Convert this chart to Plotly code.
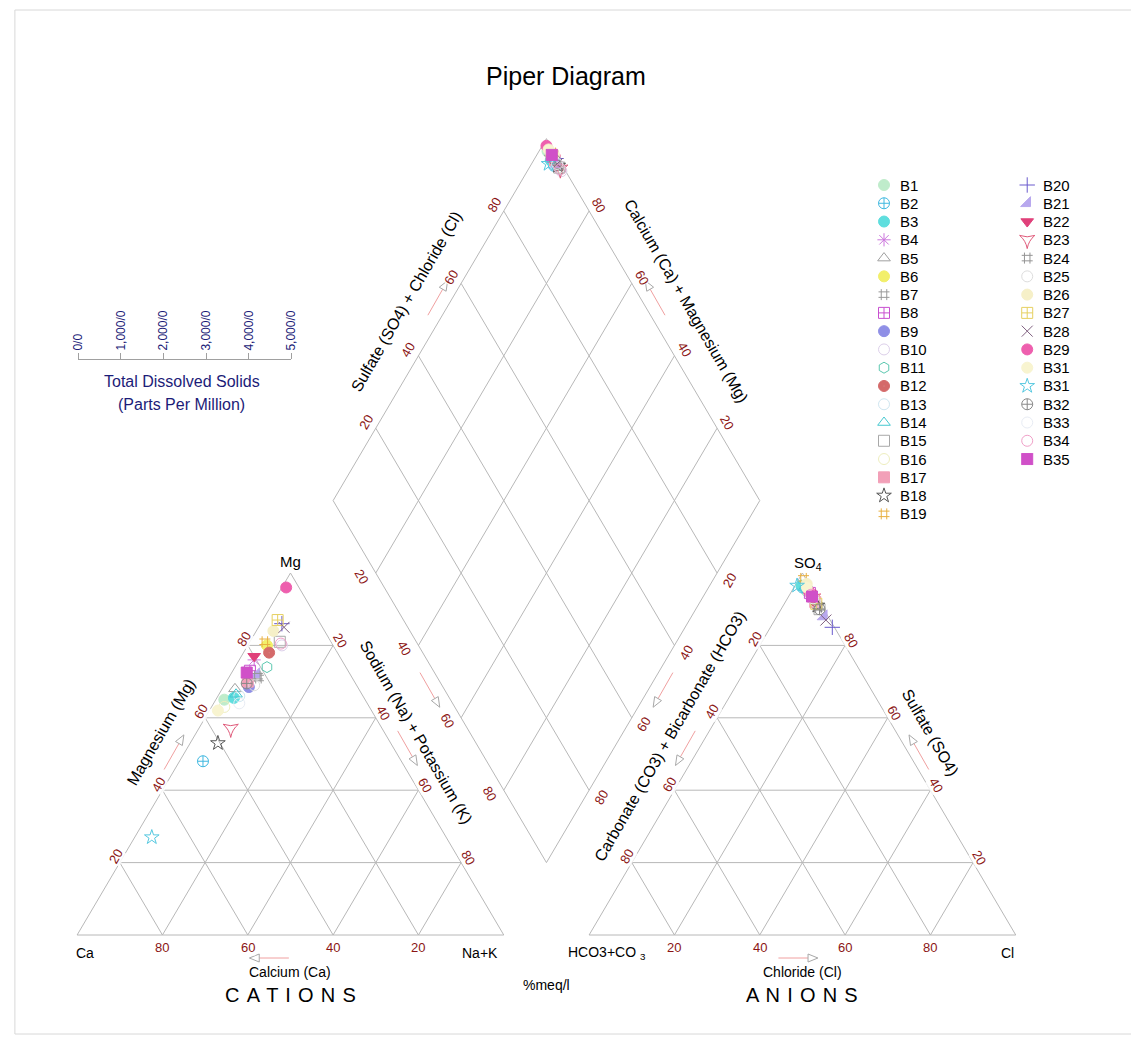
import numpy as np
import plotly.graph_objects as go

# ---------------------------------------------------------------- data
samples = ["B1", "B2", "B3", "B4", "B5", "B6", "B7", "B8", "B9", "B10",
           "B11", "B12", "B13", "B14", "B15", "B16", "B17", "B18", "B19",
           "B20", "B21", "B22", "B23", "B24", "B25", "B26", "B27", "B28",
           "B29", "B31", "B31", "B32", "B33", "B34", "B35"]

# cations, %meq/l
mg = [65, 48, 65.5, 76, 68, 80, 71, 73, 68.5, 80,
      74, 78, 66, 66.5, 81, 63, 70, 53, 81,
      86, 72, 77, 57, 71.5, 69, 84, 87, 85,
      96, 62, 27, 69.5, 64, 80.5, 72.5]
na_k = [2, 5.5, 4, 3.5, 3, 4.5, 7, 4, 6, 8,
        7.5, 6, 5, 4, 7, 3, 5, 6.5, 3.5,
        5, 6, 3, 7.5, 6.5, 7, 4, 3.5, 6,
        1, 2, 4, 5, 6, 7.5, 3.5]
ca = [round(100 - a - b, 2) for a, b in zip(mg, na_k)]

# anions, %meq/l
so4 = [95, 96, 96.5, 94, 93, 92, 91, 94.5, 91.5, 93.5,
       95.5, 92.5, 94, 96, 90, 93, 92, 91, 98.5,
       85, 88, 94.5, 93, 90.5, 92, 97, 91.5, 87,
       95, 96, 96.5, 90, 93, 94, 93.5]
cl = [3.5, 2, 1.5, 5, 6, 7, 8, 4.5, 7.5, 5.5,
      3.5, 6.5, 5, 2.5, 9, 6, 7, 8, 1,
      14.5, 11, 4.5, 6, 8.5, 7, 2.5, 7.5, 12,
      4, 3, 0.5, 9, 6, 5, 5.5]
hco3 = [round(100 - a - b, 2) for a, b in zip(so4, cl)]

colors = ["#bfeccb", "#3fb8e0", "#5fdede", "#cc77dd", "#a0a0a0", "#f2ef6a",
          "#9a9a9a", "#c84fd0", "#8f8fe6", "#ddd0ea", "#5cc8b0", "#d46a6a",
          "#cfe6f0", "#46c8d0", "#a8a8a8", "#eeeebf", "#f2a0b8", "#555555",
          "#e8b040", "#6a5acd", "#b8a8ee", "#e0407a", "#e05a7a", "#959595",
          "#dddddd", "#f6f0c8", "#e6d060", "#806080", "#ee5fae", "#f8f4d0",
          "#55c8e0", "#888888", "#e8ecf4", "#f0a0c8", "#d050c8"]
symbols = ["circle", "circle-cross-open", "circle", "asterisk-open",
           "triangle-up-open", "circle", "hash-open", "square-cross-open",
           "circle-x", "circle-open", "hexagon-open", "circle-dot",
           "circle-open", "triangle-up-open", "square-open", "circle-open",
           "square", "star-open", "hash-open",
           "cross-thin-open", "triangle-se", "triangle-down",
           "star-triangle-down-open", "hash-open", "circle-open", "circle",
           "square-cross-open", "x-thin-open", "circle-x", "circle",
           "star-open", "circle-cross-open", "circle-open", "circle-open",
           "square-x"]

pct_ticks = [20, 40, 60, 80]
tds_ticks = [0, 1000, 2000, 3000, 4000, 5000]
tds_text = ["0/0", "1,000/0", "2,000/0", "3,000/0", "4,000/0", "5,000/0"]

# ---------------------------------------------------------------- layout
W, HPX = 1131, 1041
X0, Y0 = 71.0, 935.0      # pixel position of the Ca corner
SX, SY = 4.32, 4.18       # pixels per diagram unit
GAP = 20.0
H = np.sqrt(3) / 2
FONT = "Liberation Sans, Arial, sans-serif"
GRID = "#b8b8b8"
TICKRED = "#8b1515"
NAVY = "#1c1c78"


def cat_xy(m, n):
    return float(n + m / 2.0), float(m * H)


def an_xy(s, c):
    return float(100 + GAP + c + s / 2.0), float(s * H)


def dia_xy(camg, s4cl):
    return (float(100 + GAP / 2 + 0.5 * (s4cl - camg)),
            float(GAP / 2 * np.sqrt(3) + H * (camg + s4cl)))


def spaced(word):
    return " \u200a".join(word)


fig = go.Figure()
ann = []

# ------------------------------------------------ outlines and grid
xs, ys = [], []


def seg(p, q):
    xs.extend([p[0], q[0], None])
    ys.extend([p[1], q[1], None])


for off in (0.0, 100 + GAP):
    a, b, c = (off, 0), (off + 100, 0), (off + 50, 100 * H)
    seg(a, b); seg(b, c); seg(c, a)
    for t in pct_ticks:
        seg((off + t / 2, t * H), (off + 100 - t / 2, t * H))
        seg((off + t, 0), (off + t + (100 - t) / 2, (100 - t) * H))
        seg((off + 100 - t, 0), (off + (100 - t) / 2, (100 - t) * H))
for t in [0] + pct_ticks + [100]:
    seg(dia_xy(t, 0), dia_xy(t, 100))
    seg(dia_xy(0, t), dia_xy(100, t))

fig.add_trace(go.Scatter(x=xs, y=ys, mode="lines", hoverinfo="skip",
                         line=dict(color=GRID, width=1), showlegend=False))

# ------------------------------------------------ direction arrows


def arrow(p, direction, shift_px, length=40, drop_px=0):
    """Small pointer beside an axis: pink shaft, open grey head."""
    dx, dy = direction  # screen direction (x right, y up), unit length
    cx = p[0] + shift_px / SX
    cy = p[1] - drop_px / SY
    half = length / 2.0
    sx0, sy0 = cx - dx * half / SX, cy - dy * half / SY
    sx1, sy1 = cx + dx * (half - 10) / SX, cy + dy * (half - 10) / SY
    fig.add_trace(go.Scatter(x=[sx0, sx1], y=[sy0, sy1], mode="lines",
                             line=dict(color="#f0a0a0", width=1),
                             hoverinfo="skip", showlegend=False))
    tipx, tipy = cx + dx * half / SX, cy + dy * half / SY
    bx, by = sx1, sy1
    nx, ny = -dy, dx
    hx = [tipx, bx + nx * 4 / SX, bx - nx * 4 / SX, tipx]
    hy = [tipy, by + ny * 4 / SY, by - ny * 4 / SY, tipy]
    fig.add_trace(go.Scatter(x=hx, y=hy, mode="lines",
                             line=dict(color="#a8a8a8", width=1),
                             hoverinfo="skip", showlegend=False))


c60, s60 = 0.5, float(H)
arrow(cat_xy(50.5, 0), (c60, s60), -11)
arrow(cat_xy(51.6, 48.4), (c60, -s60), 14)
arrow(an_xy(51.6, 0), (-c60, -s60), -14)
arrow(an_xy(50.5, 49.5), (-c60, s60), 11)
arrow(dia_xy(47.7, 0), (c60, -s60), -15)
arrow(dia_xy(0, 47.7), (-c60, -s60), 15)
arrow(dia_xy(100, 56), (c60, s60), -15)
arrow(dia_xy(56, 100), (-c60, s60), 15)
arrow((45, 0), (-1, 0), 0, drop_px=23)
arrow((169, 0), (1, 0), 0, drop_px=23)

# ------------------------------------------------ samples
cx_, cy_ = zip(*[cat_xy(m, n) for m, n in zip(mg, na_k)])
ax_, ay_ = zip(*[an_xy(s, c) for s, c in zip(so4, cl)])
dx_, dy_ = zip(*[dia_xy(100 - n, s + c) for n, s, c in zip(na_k, so4, cl)])

for i, name in enumerate(samples):
    mk = dict(symbol=symbols[i], size=11, color=colors[i],
              line=dict(color=colors[i], width=1))
    fig.add_trace(go.Scatter(
        x=[cx_[i], ax_[i], dx_[i]], y=[cy_[i], ay_[i], dy_[i]],
        mode="markers", marker=mk, name=name, showlegend=False,
        hovertemplate=(f"{name}<br>Ca {ca[i]}% Mg {mg[i]}% Na+K {na_k[i]}%"
                       f"<br>HCO3 {hco3[i]}% SO4 {so4[i]}% Cl {cl[i]}%"
                       "<extra></extra>")))

# ------------------------------------------------ legend block (pixel frame)
LEG_TOP, LEG_STEP = 185.0, 18.27
for i, name in enumerate(samples):
    col = 0 if i < 19 else 1
    row = i if i < 19 else i - 19
    mx = 888 if col == 0 else 1033
    my = LEG_TOP + row * LEG_STEP
    fig.add_trace(go.Scatter(
        x=[mx], y=[my], xaxis="x2", yaxis="y2", mode="markers",
        marker=dict(symbol=symbols[i], size=11, color=colors[i],
                    line=dict(color=colors[i], width=1)),
        hoverinfo="skip", showlegend=False))
    ann.append(dict(x=mx + 14, y=my, xref="x2", yref="y2", text=name,
                    showarrow=False, xanchor="left", yanchor="middle",
                    font=dict(family=FONT, size=15, color="black")))

# ------------------------------------------------ tick labels


def tick(p, text, xs_, ys_, ang):
    ann.append(dict(x=p[0], y=p[1], xref="x", yref="y", text=text,
                    showarrow=False, xshift=xs_, yshift=ys_, textangle=ang,
                    font=dict(family=FONT, size=13, color=TICKRED),
                    bgcolor="rgba(255,255,255,0.85)", borderpad=0))


for t in pct_ticks:
    tick(cat_xy(t, 0), str(t), -4, 6, -60)
    tick(cat_xy(100 - t, t), str(t), 7, 5, 60)
    tick((100 - t, 0), str(t), 0, -12, 0)
    tick(an_xy(100 - t, 0), str(t), -5, 6, -60)
    tick(an_xy(t, 100 - t), str(t), 6, 5, 60)
    tick((100 + GAP + t, 0), str(t), 0, -12, 0)
    tick(dia_xy(100 - t, 0), str(t), -14, -3, 60)
    tick(dia_xy(0, 100 - t), str(t), 12, -7, -60)
    tick(dia_xy(100, t), str(t), -10, 6, -60)
    tick(dia_xy(t, 100), str(t), 10, 6, 60)


def label(p, text, xs_=0, ys_=0, ang=0, size=16, color="black"):
    ann.append(dict(x=p[0], y=p[1], xref="x", yref="y", text=text,
                    showarrow=False, xshift=xs_, yshift=ys_, textangle=ang,
                    font=dict(family=FONT, size=size, color=color)))


label(cat_xy(56, 0), "Magnesium (Mg)", -36, 0, -60)
label(cat_xy(56, 44), "Sodium (Na) + Potassium (K)", 32, 0, 60)
label(an_xy(55, 0), "Carbonate (CO3) + Bicarbonate (HCO3)", -36, 0, -60)
label(an_xy(56, 44), "Sulfate (SO4)", 34, 0, 60)
label(dia_xy(100, 55), "Sulfate (SO4) + Chloride (Cl)", -44, 0, -60)
label(dia_xy(55, 100), "Calcium (Ca) + Magnesium (Mg)", 44, 0, 60)

label((50, 100 * H), "Mg", 0, 12, size=15)
label((170, 100 * H), "SO<sub>4</sub>", 6, 10, size=15)
label((0, 0), "Ca", 8, -18, size=14)
label((100, 0), "Na+K", -24, -18, size=14)
label((120, 0), "HCO3+CO <sub>3</sub>", 18, -18, size=14)
label((220, 0), "Cl", -8, -18, size=14)
label((50, 0), "Calcium (Ca)", 0, -37, size=14)
label((170, 0), "Chloride (Cl)", 0, -37, size=14)
label((50, 0), spaced("CATIONS"), 0, -60, size=20)
label((170, 0), spaced("ANIONS"), 0, -60, size=20)
label((110, 0), "%meq/l", 0, -50, size=14)

# ------------------------------------------------ title, TDS scale, frame
ann.append(dict(x=566 / W, y=1 - 60 / HPX, xref="paper", yref="paper",
                text="Piper Diagram", showarrow=False, xanchor="center",
                font=dict(family=FONT, size=25, color="black")))
ann.append(dict(x=177 / W, y=1 - 381 / HPX, xref="paper", yref="paper",
                text="Total Dissolved Solids", showarrow=False,
                xanchor="center",
                font=dict(family=FONT, size=16, color=NAVY)))
ann.append(dict(x=177 / W, y=1 - 404 / HPX, xref="paper", yref="paper",
                text="(Parts Per Million)", showarrow=False,
                xanchor="center",
                font=dict(family=FONT, size=16, color=NAVY)))

fig.update_layout(
    width=W, height=HPX, margin=dict(l=0, r=0, t=0, b=0),
    paper_bgcolor="white", plot_bgcolor="rgba(0,0,0,0)",
    showlegend=False, annotations=ann,
    xaxis=dict(range=[-X0 / SX, (W - X0) / SX], visible=False,
               fixedrange=True, domain=[0, 1]),
    yaxis=dict(range=[-(HPX - Y0) / SY, Y0 / SY], visible=False,
               fixedrange=True, domain=[0, 1]),
    xaxis2=dict(range=[0, W], visible=False, overlaying="x",
                fixedrange=True),
    yaxis2=dict(range=[HPX, 0], visible=False, overlaying="y",
                fixedrange=True),
    xaxis3=dict(domain=[72 / W, 288 / W], range=[0, 5000], anchor="y3",
                side="top", showline=True, linecolor="#a0a0a0",
                ticks="outside", ticklen=6, tickcolor="#a0a0a0",
                tickvals=tds_ticks, ticktext=tds_text, tickangle=-90,
                tickfont=dict(family=FONT, size=12, color=NAVY),
                showgrid=False, zeroline=False, fixedrange=True),
    yaxis3=dict(domain=[1 - 362 / HPX, 1 - 360 / HPX], visible=False,
                anchor="x3", fixedrange=True),
    shapes=[dict(type="rect", xref="paper", yref="paper",
                 x0=8 / W, x1=1.01, y0=1 - 1034 / HPX, y1=1 - 10 / HPX,
                 line=dict(color="#d8d8d8", width=1))],
)
# an invisible point keeps the TDS axis pair alive
fig.add_trace(go.Scatter(x=[0], y=[0], xaxis="x3", yaxis="y3",
                         mode="markers", marker=dict(opacity=0),
                         hoverinfo="skip", showlegend=False))

fig.write_html("out.html")
